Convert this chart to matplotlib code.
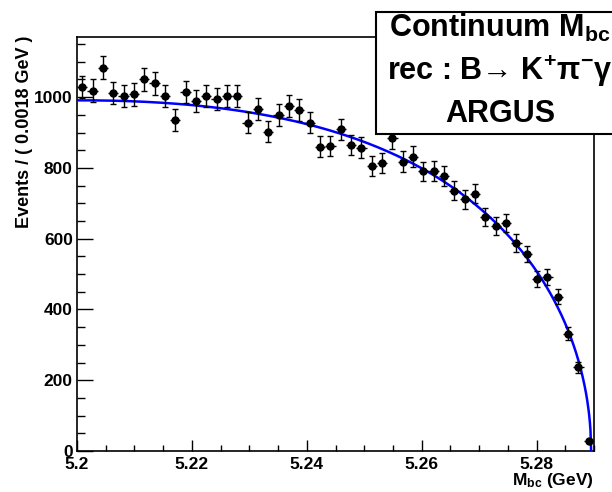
import numpy as np
from matplotlib import pyplot as plt
from matplotlib.patches import Rectangle
from matplotlib.ticker import MultipleLocator

plt.rcParams['font.family'] = ['Liberation Sans', 'DejaVu Sans']
plt.rcParams['font.weight'] = 'bold'
plt.rcParams['mathtext.fontset'] = 'custom'
plt.rcParams['mathtext.rm'] = 'Liberation Sans:bold'
plt.rcParams['mathtext.it'] = 'Liberation Sans:bold'
plt.rcParams['mathtext.bf'] = 'Liberation Sans:bold'
plt.rcParams['mathtext.sf'] = 'Liberation Sans:bold'

# histogram: 50 bins of 0.0018 GeV between 5.2 and 5.29
xLow = 5.2
binWidth = 0.0018
counts = [1029, 1018, 1083, 1012, 1003, 1008, 1051, 1039, 1004, 935,
          1015, 990, 1003, 994, 1003, 1004, 928, 966, 902, 949,
          975, 965, 928, 860, 862, 909, 865, 857, 806, 815,
          884, 818, 832, 790, 792, 777, 736, 712, 727, 661,
          637, 644, 588, 557, 486, 492, 436, 332, 236, 29]

# ARGUS fit parameters
m0 = 5.2895
chi = -14.5
valueAtLow = 991

counts = np.array(counts, dtype=float)
centers = xLow + binWidth * (np.arange(len(counts)) + 0.5)
errors = np.sqrt(counts)

def argus(m):
    z = np.clip(1 - (m / m0) ** 2, 0, None)
    return m * np.sqrt(z) * np.exp(chi * z)

norm = valueAtLow / argus(np.array(xLow))
mCurve = np.linspace(xLow, m0, 800)
fCurve = norm * argus(mCurve)

fig = plt.figure(figsize=(6.12, 4.92), dpi=100)
ax = fig.add_axes([77/612, 1 - 451/492, (594 - 77)/612, (451 - 37)/492])

ax.plot(mCurve, fCurve, color='#0000ff', lw=1.8, zorder=3)
ax.errorbar(centers, counts, xerr=binWidth/2, fmt='none', ecolor='black', elinewidth=1.0, zorder=4)
ax.errorbar(centers, counts, yerr=errors, fmt='o', color='black', ms=5, elinewidth=1.0,
            capsize=2, capthick=1.0, zorder=5)

ax.set_xlim(5.2, 5.29)
ax.set_ylim(0, 1170)
ax.xaxis.set_minor_locator(MultipleLocator(0.005))
ax.yaxis.set_minor_locator(MultipleLocator(50))
ax.set_xticks([5.2, 5.22, 5.24, 5.26, 5.28])
ax.set_xticklabels(['5.2', '5.22', '5.24', '5.26', '5.28'])
ax.set_yticks([0, 200, 400, 600, 800, 1000])
ax.set_yticklabels(['0', '200', '400', '600', '800', '1000'])

ax.tick_params(axis='both', which='both', direction='in', width=1.0, labelsize=12.5, colors='black')
ax.tick_params(axis='y', which='major', length=11.5, pad=3)
ax.tick_params(axis='y', which='minor', length=5.6)
ax.tick_params(axis='x', which='major', length=8, pad=4)
ax.tick_params(axis='x', which='minor', length=4.2)
for s in ax.spines.values():
    s.set_linewidth(1.2)

fig.text(25/612, 1 - 36/492, 'Events / ( 0.0018 GeV )', rotation=90, ha='center', va='top',
         fontsize=13, fontweight='bold')
fig.text(594/612, 1 - 485/492, r'M$_{bc}$ (GeV)', ha='right', va='baseline', fontsize=12.5)

# title box in the upper right, runs off the figure edge
fig.add_artist(Rectangle((376/612, 1 - 134/492), (660 - 376)/612, (134 - 12)/492,
                         transform=fig.transFigure, facecolor='white', edgecolor='black',
                         lw=1.5, zorder=10))
boxLines = [r'Continuum M$_{bc}$', 'rec : B\u2192 K$^{+}$\u03c0$^{-}$\u03b3', 'ARGUS']
boxBase = [37, 80, 122]
for txt, yb in zip(boxLines, boxBase):
    fig.text(500/612, 1 - yb/492, txt, ha='center', va='baseline', fontsize=22,
             fontweight='bold', zorder=11)

plt.savefig('out.png', dpi=100)
